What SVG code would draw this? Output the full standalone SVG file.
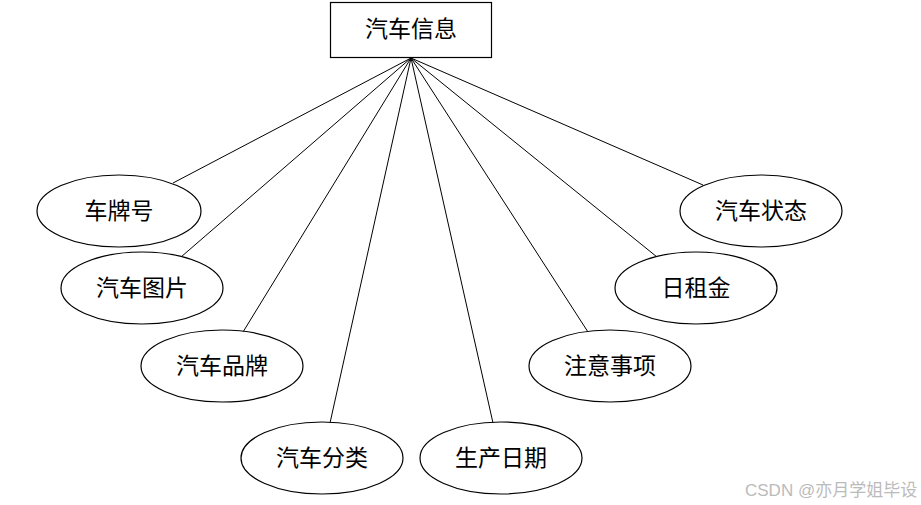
<svg xmlns="http://www.w3.org/2000/svg" width="921" height="505" viewBox="0 0 921 505">
<style>
.n{fill:#fff;stroke:#000;stroke-width:1.2}
.t{font-family:"Noto Sans CJK SC","Liberation Sans",sans-serif;font-size:23px;fill:#000;text-anchor:middle}
.c line{stroke:#000;stroke-width:1}
.w{font-family:"Liberation Sans","Noto Sans CJK SC",sans-serif;font-size:17px;fill:#bbb}
</style>
<rect width="921" height="505" fill="#fff"/>
<g class="c" id="connectors">
<line x1="411" y1="58" x2="173" y2="183"/>
<line x1="411" y1="58" x2="181" y2="257"/>
<line x1="411" y1="58" x2="243" y2="332"/>
<line x1="411" y1="58" x2="330" y2="423"/>
<line x1="411" y1="58" x2="493" y2="423"/>
<line x1="411" y1="58" x2="588" y2="332"/>
<line x1="411" y1="58" x2="657" y2="257"/>
<line x1="411" y1="58" x2="703" y2="185"/>
</g>
<g id="car-info"><rect class="n" x="330.5" y="2.5" width="161" height="55"/><text class="t" x="411" y="37">汽车信息</text></g>
<g id="plate"><ellipse class="n" cx="119" cy="211" rx="82" ry="36"/><text class="t" x="119" y="219">车牌号</text></g>
<g id="image"><ellipse class="n" cx="142" cy="288" rx="81" ry="36"/><text class="t" x="142" y="296">汽车图片</text></g>
<g id="brand"><ellipse class="n" cx="222" cy="366" rx="81" ry="36"/><text class="t" x="222" y="374">汽车品牌</text></g>
<g id="category"><ellipse class="n" cx="322" cy="458" rx="81" ry="36"/><text class="t" x="322" y="466">汽车分类</text></g>
<g id="date"><ellipse class="n" cx="501" cy="458" rx="81" ry="36"/><text class="t" x="501" y="466">生产日期</text></g>
<g id="notes"><ellipse class="n" cx="610" cy="366" rx="81" ry="36"/><text class="t" x="610" y="374">注意事项</text></g>
<g id="rent"><ellipse class="n" cx="696" cy="288" rx="81" ry="36"/><text class="t" x="696" y="296">日租金</text></g>
<g id="status"><ellipse class="n" cx="761" cy="211" rx="81" ry="36"/><text class="t" x="761" y="219">汽车状态</text></g>
<text class="w" x="745" y="496">CSDN @亦月学姐毕设</text>
</svg>
